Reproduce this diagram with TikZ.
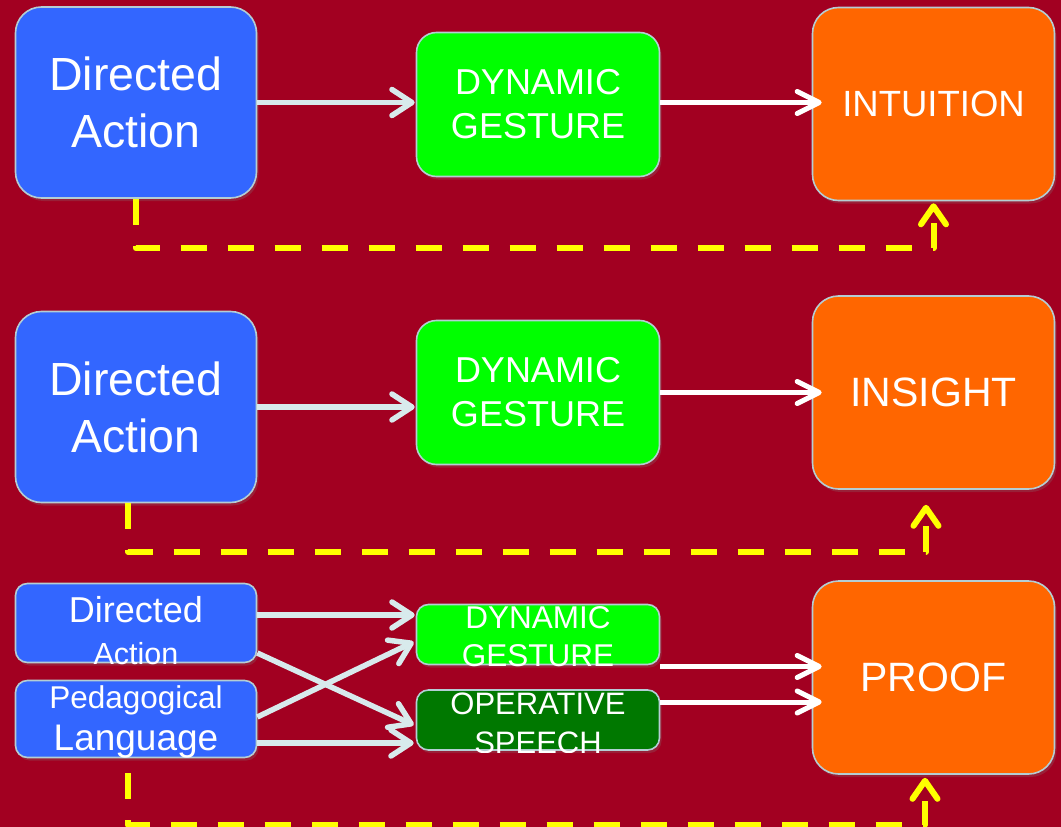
\documentclass[tikz,border=0pt]{standalone}
\usepackage{fontspec}
\setmainfont{Liberation Sans}
\usetikzlibrary{arrows.meta,shadows,calc}
\definecolor{bg}{RGB}{162,0,33}
\definecolor{bblue}{RGB}{51,102,255}
\definecolor{bgreen}{RGB}{0,255,0}
\definecolor{dgreen}{RGB}{0,120,0}
\definecolor{borange}{RGB}{255,102,0}
\definecolor{edgec}{RGB}{180,206,212}
\definecolor{lightarr}{RGB}{216,234,236}
\definecolor{dashy}{RGB}{255,255,0}
\newcommand{\fsz}[2]{\fontsize{#1}{#2}\selectfont}
\begin{document}
\begin{tikzpicture}[x=1pt,y=-1pt,
  box/.style={draw=edgec, line width=1.6pt, text=white, align=center, inner sep=0pt,
    drop shadow={opacity=0.25, shadow xshift=2pt, shadow yshift=-3pt}},
  bluebig/.style={box, fill=bblue, minimum width=241pt, minimum height=191pt, rounded corners=26pt, font=\fsz{46.5}{57}},
  greenbig/.style={box, fill=bgreen, minimum width=243pt, minimum height=144pt, rounded corners=20pt, font=\fsz{36}{44}},
  orangebig/.style={box, fill=borange, minimum width=242pt, minimum height=193pt, rounded corners=26pt},
  bluesmall/.style={box, fill=bblue, minimum width=241pt, minimum height=#1, rounded corners=12pt},
  greensmall/.style={box, fill=#1, minimum width=243pt, minimum height=60pt, rounded corners=12pt},
  txt/.style={text=white, inner sep=0pt, anchor=base},
  larr/.style={draw=lightarr, line width=5.5pt, -{Straight Barb[round,length=20pt,width=26pt]}},
  warr/.style={draw=white, line width=5pt, -{Straight Barb[round,length=22pt,width=22pt]}},
  ydash/.style={draw=dashy, line width=6pt, dash pattern=on 26pt off 21pt, line join=round,
    -{Straight Barb[round,length=18pt,width=25pt]}}
]
\useasboundingbox (0,0) rectangle (1061,827);
\fill[bg] (0,0) rectangle (1061,827);

% top row
\node[bluebig] (da1) at (136,102.5) {Directed\\Action};
\node[greenbig] (dg1) at (538,104.5) {DYNAMIC\\GESTURE};
\node[orangebig, font=\fsz{36.5}{44}] (in1) at (933.5,104) {INTUITION};

% middle row
\node[bluebig] (da2) at (136,407) {Directed\\Action};
\node[greenbig] (dg2) at (538,392.5) {DYNAMIC\\GESTURE};
\node[orangebig, font=\fsz{41}{49}] (is2) at (933.5,392.5) {INSIGHT};

% bottom row
\node[bluesmall=79pt] (da3) at (136,623) {};
\node[bluesmall=77pt] (pl3) at (136,719) {};
\node[greensmall=bgreen] (dg3) at (538,634.5) {};
\node[greensmall=dgreen] (os3) at (538,720) {};
\node[orangebig, font=\fsz{41}{49}] (pf3) at (933.5,677.5) {PROOF};

\node[txt, font=\fsz{36}{40}] (da3a) at (136,622) {Directed};
\begin{scope}
  \clip ($(da3.north west)+(-2,0)$) rectangle ($(da3.south east)+(2,1)$);
  \node[txt, font=\fsz{30.5}{34}] (da3b) at (136,664) {Action};
\end{scope}
\node[txt, font=\fsz{31.5}{36}] (pl3a) at (136,708) {Pedagogical};
\begin{scope}
  \clip ($(pl3.north west)+(-2,0)$) rectangle ($(pl3.south east)+(2,1)$);
  \node[txt, font=\fsz{37}{40}] (pl3b) at (136,750) {Language};
\end{scope}
\node[txt, font=\fsz{31.5}{36}] (dg3a) at (538,628) {DYNAMIC};
\begin{scope}
  \clip ($(dg3.north west)+(-2,0)$) rectangle ($(dg3.south east)+(2,1.5)$);
  \node[txt, font=\fsz{31.5}{36}] (dg3b) at (538,666.5) {GESTURE};
\end{scope}
\node[txt, font=\fsz{31}{36}] (os3a) at (538,714) {OPERATIVE};
\begin{scope}
  \clip ($(os3.north west)+(-2,0)$) rectangle ($(os3.south east)+(2,1.5)$);
  \node[txt, font=\fsz{31}{36}] (os3b) at (538,753) {SPEECH};
\end{scope}

% connectors top
\draw[larr] (da1.east) -- ($(da1.east -| dg1.west)+(-1,0)$);
\draw[warr] ($(dg1.east)+(0,-2)$) -- ($(dg1.east -| in1.west)+(10,-2)$);
\draw[ydash] (da1.south) |- ($(in1.south)+(0,47)$) -- ($(in1.south)+(0,2)$);

% connectors middle
\draw[larr] (da2.east) -- ($(da2.east -| dg2.west)+(-1,0)$);
\draw[warr] (dg2.east) -- ($(dg2.east -| is2.west)+(10,0)$);
\draw[ydash] ($(da2.south)+(-8,0)$) |- ($(is2.south)+(-7.5,62)$) -- ($(is2.south)+(-7.5,15)$);

% connectors bottom
\draw[larr] ($(da3.east)+(0,-8)$) -- ($(dg3.west)+(-1,-19.5)$);
\draw[larr] ($(da3.east)+(0,30)$) -- ($(os3.west)+(-2,5)$);
\draw[larr] ($(pl3.east)+(0,-2)$) -- ($(dg3.west)+(-2,7.5)$);
\draw[larr] ($(pl3.east)+(0,24)$) -- ($(os3.west)+(-2,23)$);
\draw[warr] ($(dg3.east)+(0,32)$) -- ($(dg3.east -| pf3.west)+(10,32)$);
\draw[warr] ($(os3.east)+(0,-18)$) -- ($(os3.east -| pf3.west)+(10,-18)$);
\draw[ydash] ($(pl3.south)+(-8,15)$) |- ($(pf3.south)+(-8.5,50)$) -- ($(pf3.south)+(-8.5,3)$);
\end{tikzpicture}
\end{document}
